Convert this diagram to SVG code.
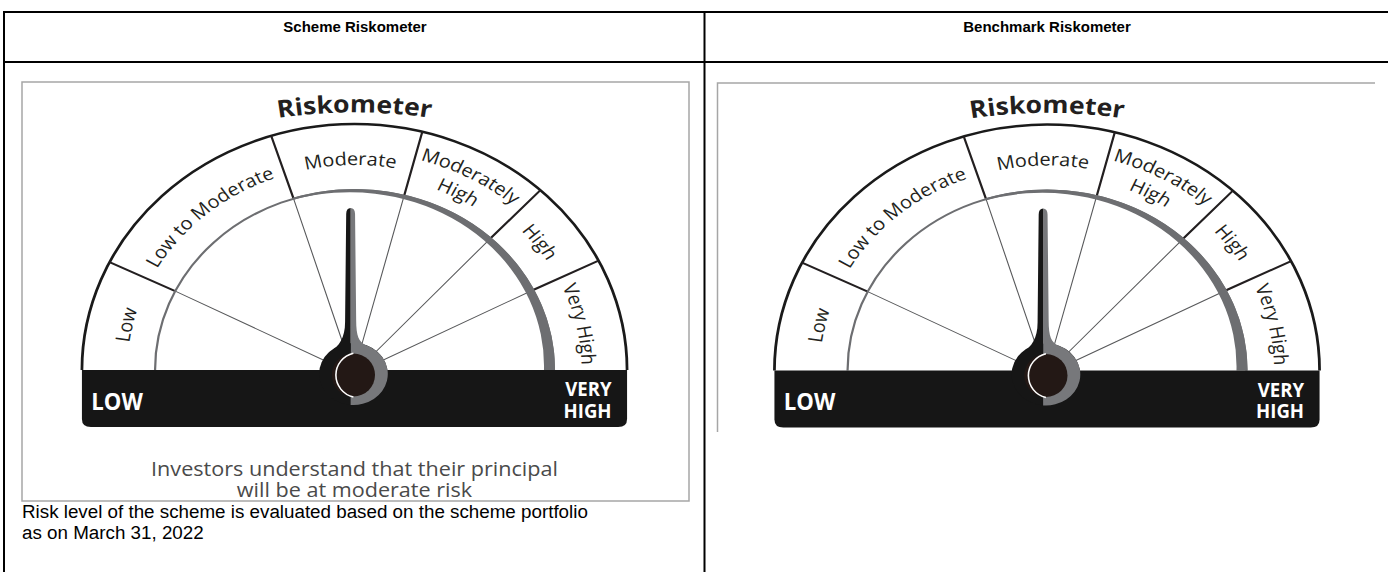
<svg xmlns="http://www.w3.org/2000/svg" xmlns:xlink="http://www.w3.org/1999/xlink" width="1388" height="572" viewBox="0 0 1388 572">
<style>
.tbl{stroke:#000;stroke-width:2;fill:none}
.hdr{font-family:"Liberation Sans",Arial,sans-serif;font-weight:bold;font-size:15px;fill:#000;text-anchor:middle}
.note{font-family:"Liberation Sans",Arial,sans-serif;font-size:18.8px;fill:#000}
.frame{stroke:#a6a6a6;stroke-width:1.5;fill:none}
.lbl{font-family:"Open Sans","Noto Sans",sans-serif;font-size:18px;fill:#231f20}
.ttl{font-family:"Open Sans","Noto Sans",sans-serif;font-size:24px;font-weight:bold;fill:#231f20}
.bar{font-family:"Open Sans","Noto Sans",sans-serif;font-weight:bold;fill:#fff}
.inv{font-family:"Open Sans","Noto Sans",sans-serif;font-size:19.5px;fill:#4a4a4a;text-anchor:middle}
.div{stroke:#231f20;stroke-width:2;fill:none}
.thin{stroke:#58595b;stroke-width:1;fill:none}
</style>
<defs>
<path id="arcT" d="M -150 -231.76 A 450 450 0 0 1 150 -231.76"/>
<path id="arcA" d="M -192.64 70.11 A 205 205 0 1 1 192.64 70.11"/>
<path id="arcB" d="M -204.85 74.56 A 218 218 0 1 1 204.85 74.56"/>
<path id="arcC" d="M -183.24 66.69 A 195 195 0 1 1 183.24 66.69"/>
<g id="gauge">
<path d="M -246 0 A 246 246 0 0 1 246 0" fill="#fff" stroke="#1a1a1a" stroke-width="2.5"/>
<path class="thin" d="M -161.8 -78.9 L -1 4 M -55 -171.4 L -1 4 M 44.8 -174.3 L -1 4 M 122.8 -131.7 L -1 4 M 161.2 -80 L -1 4"/>
<path class="div" d="M -221.1 -107.8 L -161.8 -78.9 M -75.2 -234.2 L -55 -171.4 M 61.2 -238.3 L 44.8 -174.3 M 167.8 -179.9 L 122.8 -131.7 M 220.3 -109.4 L 161.2 -80"/>
<path d="M -180 0 A 180 180 0 0 1 180 0" fill="none" stroke="#6d6e71" stroke-width="2"/>
<path fill="#6d6e71" d="M -55.93 -172.14 A 181 181 0 0 1 181 0 L 171 0 A 171.4 171.4 0 0 0 168.13 -35.74 A 172.3 172.3 0 0 0 157.84 -70.27 A 173.2 173.2 0 0 0 140.5 -102.08 A 174.1 174.1 0 0 0 116.8 -129.72 A 175 175 0 0 0 87.72 -151.94 A 175.9 175.9 0 0 0 54.49 -167.71 A 176.8 176.8 0 0 0 18.52 -176.25 A 177.7 177.7 0 0 0 -18.62 -177.13 A 178.6 178.6 0 0 0 -55.31 -170.25 Z"/>
<text class="ttl"><textPath xlink:href="#arcT" href="#arcT" startOffset="50%" text-anchor="middle">Riskometer</textPath></text>
<text class="lbl"><textPath xlink:href="#arcA" href="#arcA" startOffset="115.9" text-anchor="middle">Low</textPath></text>
<text class="lbl"><textPath xlink:href="#arcA" href="#arcA" startOffset="248.7" text-anchor="middle">Low to Moderate</textPath></text>
<text class="lbl"><textPath xlink:href="#arcA" href="#arcA" startOffset="389.6" text-anchor="middle">Moderate</textPath></text>
<text class="lbl"><textPath xlink:href="#arcB" href="#arcB" startOffset="526.2" text-anchor="middle">Moderately</textPath></text>
<text class="lbl"><textPath xlink:href="#arcC" href="#arcC" startOffset="468.6" text-anchor="middle">High</textPath></text>
<text class="lbl"><textPath xlink:href="#arcA" href="#arcA" startOffset="581.4" text-anchor="middle">High</textPath></text>
<text class="lbl"><textPath xlink:href="#arcA" href="#arcA" startOffset="669.8" text-anchor="middle">Very High</textPath></text>
<path d="M -246 0 H 246 V 49 Q 246 57 238 57 H -238 Q -246 57 -246 49 Z" fill="#161616"/>
<text class="bar" font-size="23" transform="translate(-237.5 39.5) scale(0.87 1)">LOW</text>
<text class="bar" font-size="19.5" text-anchor="end" transform="translate(232 26.2) scale(0.86 1)">VERY</text>
<text class="bar" font-size="19.5" text-anchor="end" transform="translate(232 47.8) scale(0.86 1)">HIGH</text>
<circle cx="-1" cy="4" r="31" fill="#161616"/>
<path fill="#77787b" d="M -3.5 -162 C -1 -162 0.5 -160 0.5 -156 L 1.5 -50 C 1.5 -34 4 -28 10 -25 A 31 31 0 0 1 -3.5 34.9 Z"/>
<path fill="#161616" d="M -3.5 -162 C -6 -162 -7.5 -160 -7.5 -156 L -8.5 -48 C -8.5 -32 -14 -24 -22 -17.8 L -3.5 0 Z"/>
<ellipse cx="-1" cy="5" rx="19.5" ry="21.5" fill="#231815"/>
<path d="M -1 -16.8 A 20.5 22.5 0 0 0 -1 27" fill="none" stroke="#fff" stroke-width="1.4"/>
</g>
</defs>
<g id="table">
<path class="tbl" d="M 3 12 H 1388 M 3 62 H 1388 M 4 11 V 572 M 704.5 11 V 572"/>
<text class="hdr" x="355" y="32">Scheme Riskometer</text>
<text class="hdr" x="1047" y="32">Benchmark Riskometer</text>
</g>
<g id="scheme-riskometer">
<rect class="frame" x="22" y="82" width="667" height="419"/>
<use xlink:href="#gauge" href="#gauge" transform="translate(354.5 370) scale(1.108 1)"/>
<text class="inv" transform="translate(354.5 0) scale(1.108 1)"><tspan x="0" y="476.5">Investors understand that their principal</tspan><tspan x="0" y="497">will be at moderate risk</tspan></text>
<text class="note"><tspan x="22" y="518">Risk level of the scheme is evaluated based on the scheme portfolio</tspan><tspan x="22" y="539">as on March 31, 2022</tspan></text>
</g>
<g id="benchmark-riskometer">
<path class="frame" d="M 717.5 432 V 83 H 1375"/>
<use xlink:href="#gauge" href="#gauge" transform="translate(1047 370.5) scale(1.108 1)"/>
</g>
</svg>
